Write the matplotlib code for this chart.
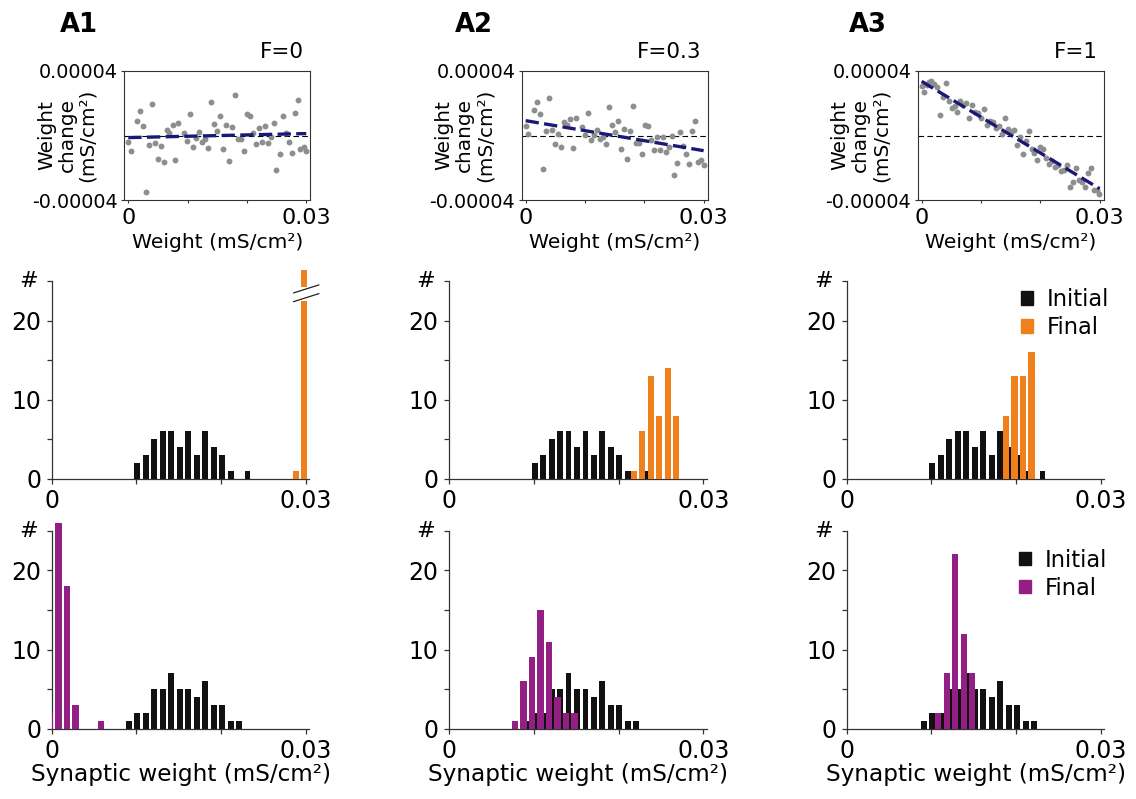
import numpy as np
import matplotlib
matplotlib.use("Agg")
import matplotlib.pyplot as plt
import matplotlib.transforms as mtransforms
from matplotlib.patches import Patch

W, H = 1136, 799

# ---- top row: weight (x1e-3 mS/cm2) vs weight change (x1e-5 mS/cm2) ----
a1_w = [0.0, 0.45, 1.41, 1.97, 2.42, 2.93, 3.49, 3.94, 4.45, 4.95, 5.46, 5.97, 6.47, 6.92, 7.49,
        7.94, 8.44, 9.46, 9.96, 10.47, 10.98, 11.48, 11.99, 12.50, 12.95, 13.45, 13.96, 14.47,
        14.97, 15.48, 15.99, 16.49, 17.00, 17.51, 18.01, 18.46, 18.97, 19.48, 19.98, 20.49,
        21.00, 21.50, 22.01, 22.52, 23.02, 23.53, 23.98, 24.49, 24.94, 25.50, 26.01, 26.51,
        27.02, 27.53, 28.03, 28.54, 28.99, 29.55, 30.0]
a1_dw = [-0.40, -0.96, 0.92, 1.52, 0.59, -3.48, -0.59, 1.95, -0.47, -1.46, -0.67, -1.64, 0.32,
         0.16, 0.63, -1.52, 0.78, 0.13, -0.36, 1.31, -0.71, -0.16, 0.20, -0.40, -0.24, -0.75,
         2.08, 0.71, 0.26, 1.19, -0.86, 0.67, -1.60, 0.51, 2.51, -0.24, -0.24, -0.96, 1.33,
         1.19, 0.16, -0.53, 0.47, -0.40, 0.57, -0.47, -0.09, 0.80, -2.16, -1.15, 1.19, 0.16,
         -0.42, -1.09, 1.42, 2.18, -0.82, -0.73, -0.98]

a2_w = [0.0, 0.45, 1.41, 1.97, 2.42, 2.98, 3.49, 4.00, 4.50, 5.01, 5.52, 6.02, 6.53, 7.04, 7.54,
        7.99, 8.56, 9.46, 10.02, 10.53, 11.03, 11.54, 12.05, 12.55, 13.06, 13.57, 14.07, 14.58,
        15.09, 15.59, 16.10, 16.61, 17.06, 17.56, 18.07, 18.58, 19.08, 19.59, 20.04, 20.60,
        21.05, 21.56, 22.07, 22.57, 23.08, 23.59, 24.09, 24.60, 25.05, 25.56, 26.06, 26.57,
        27.08, 27.58, 28.09, 28.60, 29.10, 29.61, 30.0]
a2_dw = [0.57, 0.11, 1.60, 2.08, 1.31, -2.06, 0.26, 2.33, 0.32, -0.53, 0.11, -0.73, 0.86, 0.63,
         1.04, -0.78, 1.09, 0.53, 0.05, 1.42, -0.30, 0.03, 0.36, -0.20, -0.11, -0.53, 1.77,
         0.63, 0.22, 0.92, -0.82, 0.42, -1.46, 0.26, 1.83, -0.47, -0.47, -1.15, 0.67, 0.57,
         -0.30, -0.92, -0.09, -0.88, -0.09, -1.00, -0.73, -0.05, -2.47, -1.68, 0.22, -0.67,
         -1.15, -1.75, 0.30, 0.92, -1.64, -1.52, -1.81]

a3_w = [0.0, 0.39, 0.84, 1.23, 1.63, 2.07, 2.52, 3.03, 3.53, 4.04, 4.54, 5.05, 5.55, 6.00, 6.50,
        7.01, 7.51, 8.02, 8.52, 9.03, 9.53, 10.04, 10.54, 11.05, 11.55, 12.05, 12.56, 13.06,
        13.57, 14.07, 14.58, 15.08, 15.59, 16.09, 16.54, 17.05, 17.55, 18.05, 18.56, 19.01,
        19.51, 20.02, 20.52, 21.03, 21.47, 21.98, 22.48, 22.99, 23.49, 24.00, 24.50, 25.01,
        25.51, 26.02, 26.52, 27.03, 27.47, 27.98, 28.48, 28.99, 29.49, 29.94]
a3_dw = [3.05, 2.70, 3.15, 3.32, 3.40, 3.19, 3.01, 1.29, 2.37, 3.26, 2.16, 1.71, 1.85, 1.46,
         2.12, 1.87, 2.04, 1.06, 1.87, 1.44, 1.40, 1.09, 1.62, 0.67, 0.88, 0.84, 0.47, 0.59,
         0.07, 1.06, 0.42, 0.22, 0.32, -0.61, -0.11, -1.15, -0.36, 0.28, -0.86, -1.09, -1.52,
         -0.69, -0.84, -1.40, -1.79, -1.60, -1.95, -1.85, -2.22, -2.14, -1.85, -3.17, -2.88,
         -2.02, -2.76, -2.90, -3.21, -2.33, -2.04, -3.38, -3.38, -3.61]

# linear fit, value at weight 0 and at weight 0.03 (x1e-5)
a1_fit = [-0.13, 0.12]
a2_fit = [0.92, -0.94]
a3_fit = [3.36, -3.30]

f_values = ["F=0", "F=0.3", "F=1"]
panel_names = ["A1", "A2", "A3"]

# ---- histograms (bin centre in mS/cm2, counts) ----
mid_init_bins = [0.010, 0.011, 0.012, 0.013, 0.014, 0.015, 0.016, 0.017, 0.018, 0.019,
                 0.020, 0.021, 0.022, 0.023]
mid_init_counts = [2, 3, 5, 6, 6, 4, 6, 3, 6, 4, 3, 1, 0, 1]

mid_a1_bins = [0.029, 0.030]
mid_a1_counts = [1, 49]
mid_a2_bins = [0.022, 0.023, 0.024, 0.025, 0.026, 0.027]
mid_a2_counts = [1, 6, 13, 8, 14, 8]
mid_a3_bins = [0.019, 0.020, 0.021, 0.022]
mid_a3_counts = [8, 13, 13, 16]

bot_init_bins = [0.009, 0.010, 0.011, 0.012, 0.013, 0.014, 0.015, 0.016, 0.017, 0.018,
                 0.019, 0.020, 0.021, 0.022]
bot_init_counts = [1, 2, 2, 5, 5, 7, 5, 5, 4, 6, 3, 3, 1, 1]

bot_a1_bins = [0.000, 0.001, 0.002, 0.003, 0.004, 0.005, 0.006]
bot_a1_counts = [2, 26, 18, 3, 0, 0, 1]
bot_a2_bins = [0.008, 0.009, 0.010, 0.011, 0.012, 0.013, 0.014, 0.015]
bot_a2_counts = [1, 6, 9, 15, 11, 4, 2, 2]
bot_a3_bins = [0.011, 0.012, 0.013, 0.014, 0.015]
bot_a3_counts = [2, 7, 22, 12, 7]

BLACK = "#111111"
ORANGE = "#f0801c"
PURPLE = "#931f84"
GREY = "#8e8e8e"
NAVY = "#1b1977"
SPINE = "#333333"

fig = plt.figure(figsize=(W / 100, H / 100), dpi=100)


def rect(left, top, width, height):
    return [left / W, 1 - (top + height) / H, width / W, height / H]


def scatter_panel(i, left, w, dw, fit):
    ax = fig.add_axes(rect(left, 71, 186.3, 129))
    ax.scatter(np.array(w) * 1e-3, np.array(dw) * 1e-5, s=18, color=GREY, lw=0, zorder=2)
    ax.axhline(0, color="k", lw=0.8, ls=(0, (5, 3)), zorder=1)
    ax.plot([0, 0.03], np.array(fit) * 1e-5, color=NAVY, lw=2.4, ls=(0, (4, 1.6)), zorder=3)
    ax.set_xlim(-0.0007, 0.0307)
    ax.set_ylim(-4e-5, 4e-5)
    ax.set_xticks([0, 0.01, 0.02, 0.03])
    ax.set_xticklabels(["0", "", "", "0.03"])
    ax.set_yticks([-4e-5, 4e-5])
    ax.set_yticklabels(["-0.00004", "0.00004"])
    ax.tick_params(axis="x", length=2.5, width=0.8, pad=3.5, labelsize=16, color=SPINE)
    ax.tick_params(axis="y", length=2.5, width=0.8, pad=2, labelsize=13.8, color=SPINE)
    for s in ax.spines.values():
        s.set_color(SPINE)
        s.set_linewidth(0.8)
    ax.set_xlabel("Weight (mS/cm²)", fontsize=14.6, labelpad=3)
    fig.text((left - 57) / W, 1 - 135.5 / H, "Weight\nchange\n(mS/cm²)", rotation=90,
             ha="center", va="center", fontsize=14.4, linespacing=1.1, multialignment="center")
    fig.text((left + 180) / W, 1 - 52 / H, f_values[i], ha="right", va="center", fontsize=15.5)
    return ax


def hist_panel(left, top, init_bins, init_counts, fin_bins, fin_counts, fin_color,
               cap=None, legend_anchor=None):
    ax = fig.add_axes(rect(left, top, 257.7, 198))
    ax.bar(np.array(init_bins) + 0.0001, init_counts, width=0.0007, color=BLACK, lw=0, zorder=2)
    heights = np.array(fin_counts, dtype=float)
    if cap is not None:
        heights = np.minimum(heights, cap)
    bars = ax.bar(np.array(fin_bins) - 0.0002, heights, width=0.00075, color=fin_color, lw=0,
                  zorder=3)
    for b in bars:
        if b.get_height() > 25:
            b.set_clip_on(False)
    ax.set_xlim(0, 0.0304)
    ax.set_ylim(0, 25)
    ax.spines["top"].set_visible(False)
    ax.spines["right"].set_visible(False)
    for s in ["left", "bottom"]:
        ax.spines[s].set_color(SPINE)
        ax.spines[s].set_linewidth(0.9)
    ax.set_xticks([0, 0.01, 0.02, 0.03])
    ax.set_xticklabels(["0", "", "", "0.03"])
    ax.set_yticks([0, 5, 10, 15, 20, 25])
    ax.set_yticklabels(["0", "", "10", "", "20", ""])
    ax.tick_params(length=3.5, width=0.9, pad=4, labelsize=17, color=SPINE)
    trans = mtransforms.blended_transform_factory(ax.transAxes, ax.transData)
    ax.text(-0.091, 25, "#", transform=trans, ha="center", va="center", fontsize=16)
    if legend_anchor is not None:
        handles = [Patch(color=BLACK, label="Initial"), Patch(color=fin_color, label="Final")]
        ax.legend(handles=handles, loc="upper left", bbox_to_anchor=legend_anchor,
                  frameon=False, fontsize=16.3, handlelength=0.55, handleheight=0.55,
                  handletextpad=0.6, labelspacing=0.22, borderpad=0, borderaxespad=0)
    return ax, bars


tops = [124.1, 521.5, 917.5]
for i, (w, dw, fit) in enumerate([(a1_w, a1_dw, a1_fit), (a2_w, a2_dw, a2_fit),
                                  (a3_w, a3_dw, a3_fit)]):
    scatter_panel(i, tops[i], w, dw, fit)

label_x = [60, 455, 849.3]
for i, name in enumerate(panel_names):
    fig.text(label_x[i] / W, 1 - 25 / H, name, fontsize=18.6, fontweight="bold",
             ha="left", va="center")

lefts = [51.7, 449, 846.7]
finals_mid = [(mid_a1_bins, mid_a1_counts), (mid_a2_bins, mid_a2_counts),
              (mid_a3_bins, mid_a3_counts)]
finals_bot = [(bot_a1_bins, bot_a1_counts), (bot_a2_bins, bot_a2_counts),
              (bot_a3_bins, bot_a3_counts)]

for i in range(3):
    cap = 26.4 if i == 0 else None
    leg = (0.675, 0.965) if i == 2 else None
    ax, bars = hist_panel(lefts[i], 281, mid_init_bins, mid_init_counts, *finals_mid[i],
                          ORANGE, cap=cap, legend_anchor=leg)
    if i == 0:
        # axis break on the tall bar
        c = bars[-1].get_x() + bars[-1].get_width() / 2
        bw = bars[-1].get_width()
        ax.fill_between([c - bw, c + bw], 22.5, 24.3, color="white", zorder=4, clip_on=False,
                        lw=0)
        for y0 in [22.4, 23.5]:
            ax.plot([c - 0.00125, c + 0.0017], [y0, y0 + 1.0], color="#222222", lw=0.9,
                    zorder=5, clip_on=False)

    leg = (0.668, 0.91) if i == 2 else None
    ax, bars = hist_panel(lefts[i], 530.7, bot_init_bins, bot_init_counts, *finals_bot[i],
                          PURPLE, legend_anchor=leg)
    ax.set_xlabel("Synaptic weight (mS/cm²)", fontsize=16.7, labelpad=0)

fig.savefig("out.png", dpi=100)
